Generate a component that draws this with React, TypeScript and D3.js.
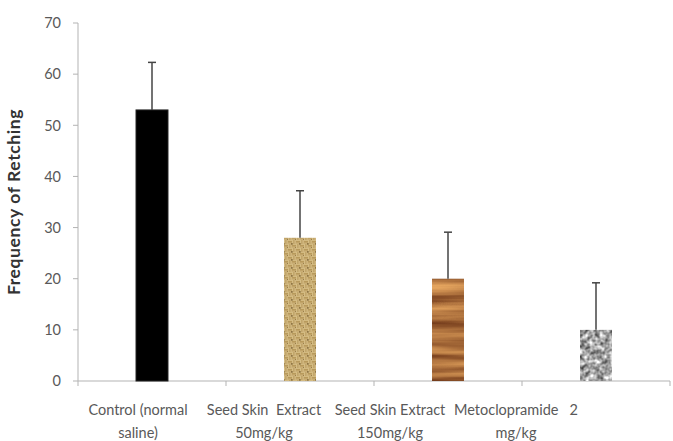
import React from "react";
import * as d3 from "d3";

// Treatment groups, their mean retching frequency and the upper error (SD)
const categories = [
  "Control (normal saline)",
  "Seed Skin Extract 50mg/kg",
  "Seed Skin Extract 150mg/kg",
  "Metoclopramide 2 mg/kg",
];
const labelLines = [
  ["Control (normal", "saline)"],
  ["Seed Skin  Extract", "50mg/kg"],
  ["Seed Skin Extract", "150mg/kg"],
  ["Metoclopramide   2", "mg/kg"],
];
const means = [53, 28, 20, 10];
const errors = [9.3, 9.2, 9.1, 9.2];
const yTicks = [0, 10, 20, 30, 40, 50, 60, 70];

const W = 673;
const H = 441;
const left = 78;
const right = 670;
const top = 23;
const bottom = 381;

// per-bar paint: solid black, basket weave, wood grain, granite
const fills = ["#000000", "url(#basket)", "#999999", "#999999"];
const filters = [undefined, undefined, "url(#woodGrain)", "url(#granite)"];

const FONT = "Lato, 'Open Sans', sans-serif";

export default function App() {
  const x = d3
    .scaleBand<string>()
    .domain(categories)
    .range([left, right])
    .paddingInner(0.784)
    .paddingOuter(0.392);
  const y = d3.scaleLinear().domain([0, 70]).range([bottom, top]);
  // category labels sit on their own, slightly narrower spacing
  const lx = d3.scalePoint<string>().domain(categories).range([138, 516]);

  const step = x.step();
  const boundaries = d3.range(categories.length + 1).map((i) => left + i * step);

  return (
    <svg
      width={W}
      height={H}
      style={{ position: "absolute", left: 0, top: 0, background: "#fff" }}
    >
      <defs>
        <pattern id="basket" width="8" height="8" patternUnits="userSpaceOnUse">
          <rect width="8" height="8" fill="#dcc58e" />
          <path d="M0 1.3 H4 M0 2.9 H4 M4 5.3 H8 M4 6.9 H8" stroke="#a98848" strokeWidth="0.9" />
          <path d="M5.3 0 V4 M6.9 0 V4 M1.3 4 V8 M2.9 4 V8" stroke="#b8995c" strokeWidth="0.9" />
          <rect x="3.2" y="3.2" width="1.4" height="1.4" fill="#6e5428" />
          <rect x="7.2" y="7.2" width="1" height="1" fill="#7d6232" />
        </pattern>
        <filter
          id="woodGrain"
          x="0"
          y="0"
          width="1"
          height="1"
          colorInterpolationFilters="sRGB"
        >
          <feTurbulence type="fractalNoise" baseFrequency="0.006 0.12" numOctaves="3" seed="7" result="n" />
          <feColorMatrix
            in="n"
            type="matrix"
            values="0.75 0 0 0 0.28  0.7 0 0 0 0.07  0.45 0 0 0 0.0  0 0 0 0 1"
            result="c"
          />
          <feComposite in="c" in2="SourceGraphic" operator="in" />
        </filter>
        <filter
          id="granite"
          x="0"
          y="0"
          width="1"
          height="1"
          colorInterpolationFilters="sRGB"
        >
          <feTurbulence type="fractalNoise" baseFrequency="0.2" numOctaves="2" seed="4" result="n" />
          <feColorMatrix
            in="n"
            type="matrix"
            values="1.25 0 0 0 0.02  1.25 0 0 0 0.02  1.25 0 0 0 0.02  0 0 0 0 1"
            result="c"
          />
          <feComposite in="c" in2="SourceGraphic" operator="in" />
        </filter>
      </defs>

      {/* y axis */}
      <line x1={left} x2={left} y1={top} y2={bottom} stroke="#b3b3b3" strokeWidth={1} />
      {yTicks.map((t) => (
        <g key={t}>
          <line x1={left - 5} x2={left} y1={y(t)} y2={y(t)} stroke="#b3b3b3" />
          <text
            x={61}
            y={y(t)}
            dy="0.36em"
            textAnchor="end"
            fontFamily={FONT}
            fontSize={14.5}
            fill="#595959"
          >
            {t}
          </text>
        </g>
      ))}

      {/* x axis */}
      <line x1={left} x2={right} y1={bottom} y2={bottom} stroke="#b3b3b3" strokeWidth={1} />
      {boundaries.map((b, i) => (
        <line key={i} x1={b} x2={b} y1={bottom} y2={bottom + 5} stroke="#b3b3b3" />
      ))}

      {/* bars */}
      {categories.map((c, i) => (
        <rect
          key={c}
          x={x(c)}
          y={y(means[i])}
          width={x.bandwidth()}
          height={y(0) - y(means[i])}
          fill={fills[i]}
          filter={filters[i]}
          stroke={i === 0 ? "#222" : "none"}
        />
      ))}

      {/* error bars (upper) */}
      {categories.map((c, i) => {
        const cx = (x(c) as number) + x.bandwidth() / 2;
        return (
          <g key={c} stroke="#444" strokeWidth={1.5}>
            <line x1={cx} x2={cx} y1={y(means[i])} y2={y(means[i] + errors[i])} />
            <line
              x1={cx - 4}
              x2={cx + 4}
              y1={y(means[i] + errors[i])}
              y2={y(means[i] + errors[i])}
            />
          </g>
        );
      })}

      {/* category labels */}
      {categories.map((c, i) => (
        <text
          key={c}
          x={lx(c)}
          y={415}
          textAnchor="middle"
          fontFamily={FONT}
          fontSize={14.5}
          fill="#595959"
          style={{ whiteSpace: "pre" }}
        >
          <tspan x={lx(c)}>{labelLines[i][0]}</tspan>
          <tspan x={lx(c)} dy={23}>
            {labelLines[i][1]}
          </tspan>
        </text>
      ))}

      {/* y axis title */}
      <text
        transform={`translate(20,${(top + bottom) / 2}) rotate(-90)`}
        textAnchor="middle"
        fontFamily={FONT}
        fontSize={17.5}
        fontWeight="bold"
        letterSpacing={0.6}
        fill="#333"
      >
        Frequency of Retching
      </text>
    </svg>
  );
}
